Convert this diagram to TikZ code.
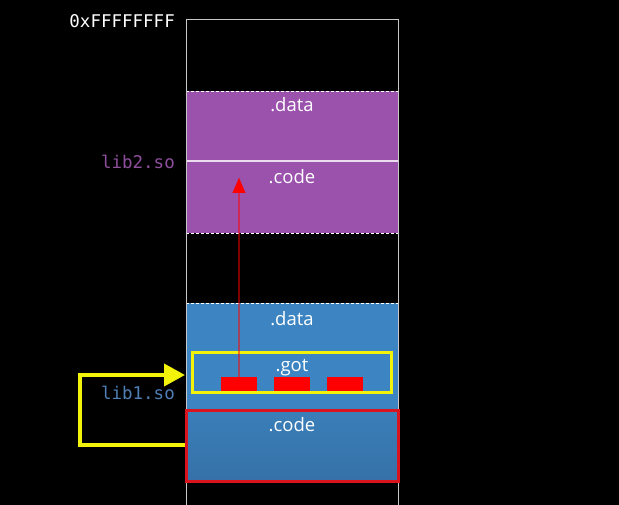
\documentclass[tikz,border=0pt]{standalone}
\usepackage{fontspec}
\setmainfont{Open Sans}
\setmonofont{DejaVu Sans Mono}
\usetikzlibrary{arrows.meta}
\definecolor{purp}{HTML}{9B52AD}
\definecolor{purptxt}{HTML}{8E4F9E}
\definecolor{blu}{HTML}{3D85C2}
\definecolor{bludark}{HTML}{3671A8}
\definecolor{blutxt}{HTML}{4F7FB5}
\definecolor{redbox}{HTML}{D9141E}
\definecolor{yel}{HTML}{F2F20A}
\definecolor{edge}{HTML}{C8C8C8}
\tikzset{
  sect/.style={font=\fontsize{18.5}{18.5}\selectfont, text=white, inner sep=0pt},
  lbl/.style={font=\ttfamily\fontsize{17.5}{17.5}\selectfont, inner sep=0pt, anchor=east},
  gotslot/.style={fill=red, draw=none, minimum width=36pt, minimum height=14pt, inner sep=0pt},
  dashline/.style={white, line width=0.7pt, dash pattern=on 3pt off 2pt},
}
\begin{document}
\begin{tikzpicture}[x=1pt,y=-1pt]
\useasboundingbox (0,0) rectangle (619,505);
\fill[black] (0,0) rectangle (619,505);
% lib2
\fill[purp] (186,91) rectangle (398,233);
\draw[white!80!purp, line width=1.5pt] (186,161) -- (398,161);
\draw[dashline] (186,91) -- (398,91);
\draw[dashline] (186,233) -- (398,233);
% lib1
\fill[blu] (186,303) rectangle (398,410);
\shade[top color=blu!95!black, bottom color=bludark] (186,410) rectangle (398,481);
\draw[dashline] (186,303) -- (398,303);
% column outline
\draw[edge, line width=1pt] (186,505) -- (186,20) -- (398,20) -- (398,505);
% texts
\node[lbl, text=white] (top) at (175,21) {0xFFFFFFFF};
\node[lbl, text=purptxt] (l2) at (175,162) {lib2.so};
\node[lbl, text=blutxt] (l1) at (175,393) {lib1.so};
\node[sect] (d2) at (292,105) {.data};
\node[sect] (c2) at (292,177) {.code};
\node[sect] (d1) at (292,319) {.data};
% boxes
\node[draw=redbox, line width=3pt, minimum width=212pt, minimum height=71pt, inner sep=0pt] (codebox) at (292,445.5) {};
\node[sect] (c1) at (292,425) {.code};
\node[draw=yel, line width=3pt, minimum width=199pt, minimum height=40pt, inner sep=0pt] (got) at (292,372.5) {};
\node[sect] (gt) at (292,368) {.got};
\node[gotslot] (s1) at (239,384) {};
\node[gotslot] (s2) at (292,384) {};
\node[gotslot] (s3) at (345,384) {};
% red arrow
\coordinate (target) at (239,178);
\coordinate (tipbase) at (239,192);
\draw[draw=red, draw opacity=0.5, line width=2pt] (s1.north) -- (tipbase);
\draw[red, line width=0.1pt, -{Triangle[length=15pt,width=13pt]}] (tipbase) -- (target);
% yellow arrow
\coordinate (ya) at (80,445);
\coordinate (yb) at (80,375);
\coordinate (ytip) at (185,375);
\draw[yel, line width=4pt, -{Triangle[length=21pt,width=22pt]}] (codebox.west |- ya) -- (ya) -- (yb) -- (ytip);
\end{tikzpicture}
\end{document}
